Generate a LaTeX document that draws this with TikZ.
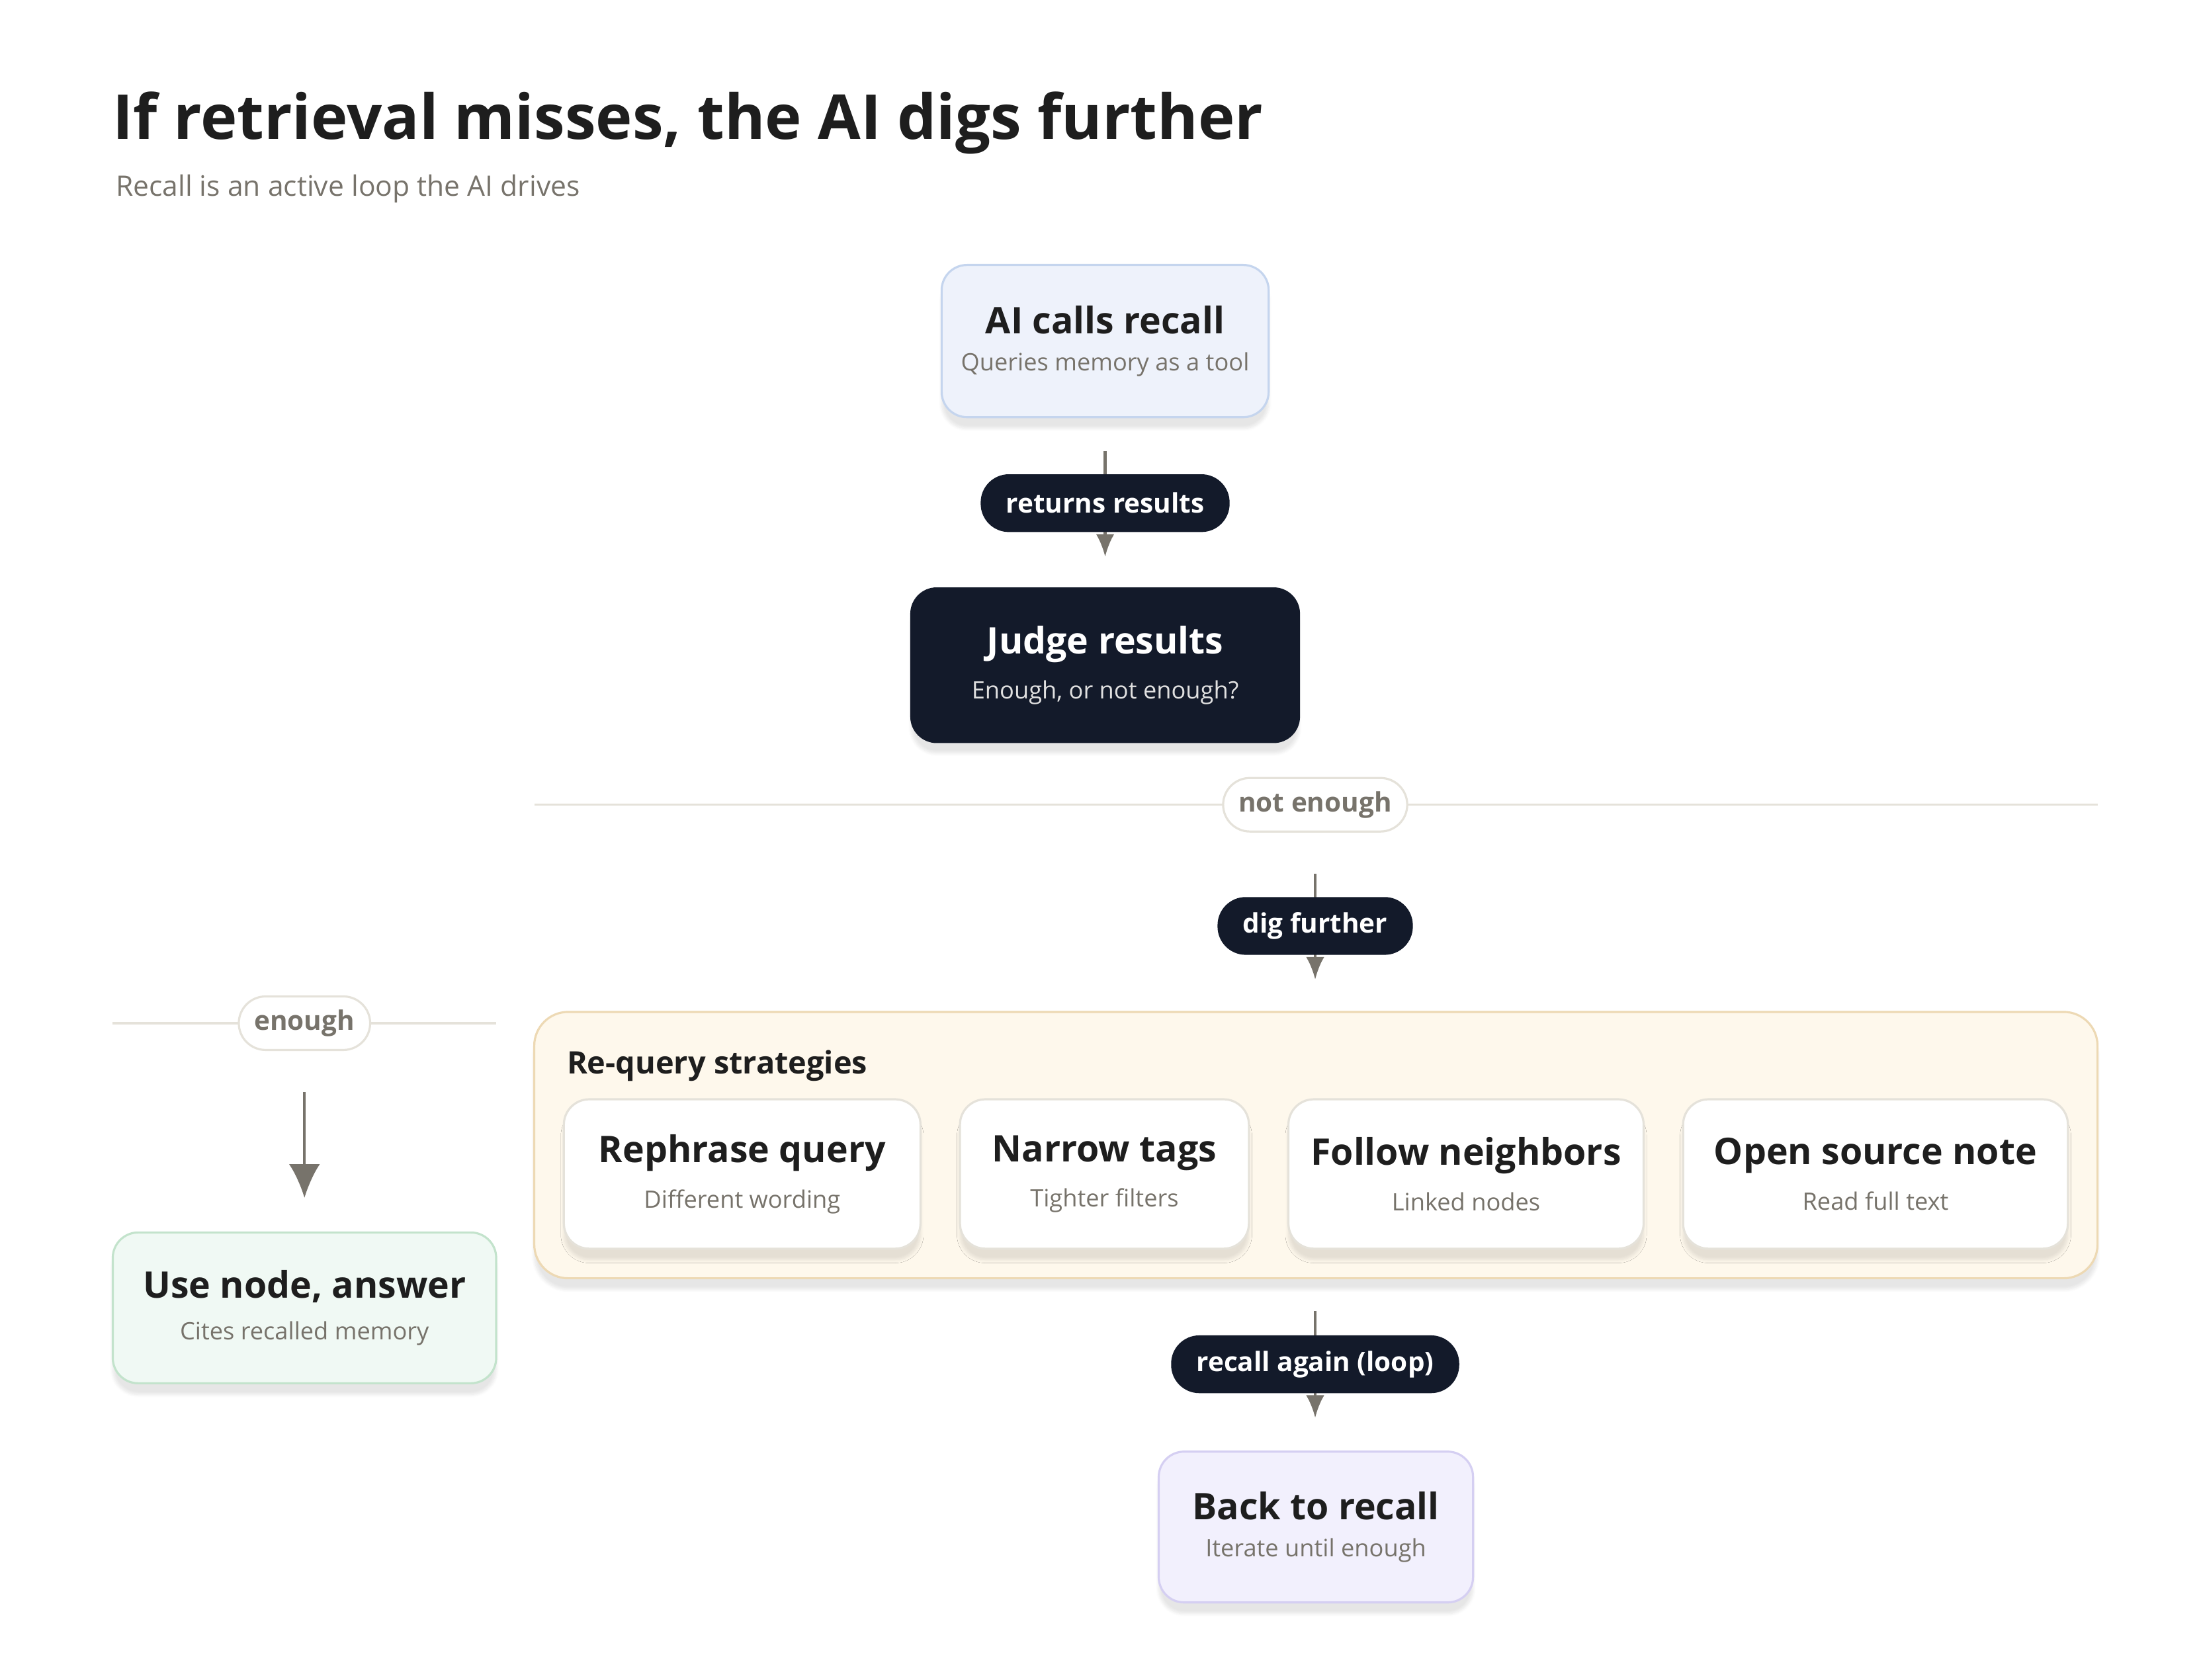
\documentclass[tikz,border=0pt]{standalone}
\usepackage{fontspec}
\setmainfont{Open Sans}
\usetikzlibrary{arrows.meta,shadows.blur}
\definecolor{ink}{HTML}{1E1E1E}
\definecolor{navy}{HTML}{131A2A}
\definecolor{mute}{HTML}{77736B}
\definecolor{rule}{HTML}{E5E2DA}
\definecolor{bluefill}{HTML}{EEF2FB}
\definecolor{blueline}{HTML}{C5D5EE}
\definecolor{greenfill}{HTML}{F0F9F4}
\definecolor{greenline}{HTML}{C3E3CC}
\definecolor{sandfill}{HTML}{FEF8EC}
\definecolor{sandline}{HTML}{EDD9B4}
\definecolor{lilacfill}{HTML}{F2F0FD}
\definecolor{lilacline}{HTML}{D5CFF2}
\newcommand{\fs}[1]{\fontsize{#1}{#1}\selectfont}
\newcommand{\boxtext}[2]{{\fs{26}\bfseries #1}\\[12pt]{\fs{17}\color{mute}#2}}
\tikzset{
  card/.style={draw=rule,fill=white,line width=1.5pt,rounded corners=18pt,
    align=center,text=ink,
    blur shadow={shadow blur steps=8,shadow opacity=10,shadow xshift=0pt,shadow yshift=-8pt}},
  pill/.style={fill=navy,text=white,rounded corners=20pt,font=\fs{19}\bfseries,
    minimum height=41pt,inner xsep=18pt},
  tag/.style={draw=rule,fill=white,line width=1.5pt,text=mute,rounded corners=19pt,
    font=\fs{19}\bfseries,minimum height=38pt,inner xsep=11pt},
  flow/.style={draw=mute,line width=2pt,-{Latex[length=16pt,width=13pt]}},
  divider/.style={draw=rule,line width=1.5pt}
}
\begin{document}
\begin{tikzpicture}[x=1pt,y=-1pt]
\useasboundingbox (0,0) rectangle (1560,1192);
% heading
\node[anchor=base west,text=ink,font=\fs{44}\bfseries,inner sep=0] (title) at (80,99) {If retrieval misses, the AI digs further};
\node[anchor=base west,text=mute,font=\fs{20},inner sep=0] (subtitle) at (82,139) {Recall is an active loop the AI drives};
% top of the loop
\node[card,fill=bluefill,draw=blueline,minimum width=232pt,minimum height=108pt] (recall) at (784,242) {\boxtext{AI calls recall}{Queries memory as a tool}};
\coordinate (r1) at (784,320);
\coordinate (r2) at (784,395);
\draw[flow] (r1) -- (r2);
\node[pill] (returns) at (784,357) {returns results};
\node[card,fill=navy,draw=navy,text=white,minimum width=275pt,minimum height=109pt] (judge) at (784,472)
  {{\fs{26}\bfseries Judge results}\\[12pt]{\fs{17}\color{white!88!black}Enough, or not enough?}};
% branch: not enough
\coordinate (n1) at (379,571);
\coordinate (n2) at (1488,571);
\draw[divider] (n1) -- (n2);
\node[tag] (notenough) at (933,571) {not enough};
\coordinate (d1) at (933,620);
\coordinate (d2) at (933,695);
\draw[flow] (d1) -- (d2);
\node[pill] (dig) at (933,657) {dig further};
% branch: enough
\coordinate (e1) at (80,726);
\coordinate (e2) at (352,726);
\draw[divider] (e1) -- (e2);
\node[tag] (enough) at (216,726) {enough};
\coordinate (u1) at (216,775);
\coordinate (u2) at (216,850);
\draw[draw=mute,line width=2pt,-{Latex[length=24pt,width=22pt]}] (u1) -- (u2);
\node[card,fill=greenfill,draw=greenline,minimum width=272pt,minimum height=107pt] (answer) at (216,928) {\boxtext{Use node, answer}{Cites recalled memory}};
% strategies
\node[card,fill=sandfill,draw=sandline,rounded corners=24pt,minimum width=1109pt,minimum height=189pt] (group) at (933.5,812.5) {};
\node[anchor=base west,text=ink,font=\fs{22}\bfseries,inner sep=0] (grouplabel) at (402,762) {Re-query strategies};
\node[card,minimum width=253pt,minimum height=106pt] (rephrase) at (526.5,833) {\boxtext{Rephrase query}{Different wording}};
\node[card,minimum width=205pt,minimum height=106pt] (narrow) at (783.5,833) {\boxtext{Narrow tags}{Tighter filters}};
\node[card,minimum width=252pt,minimum height=106pt] (follow) at (1040,833) {\boxtext{Follow neighbors}{Linked nodes}};
\node[card,minimum width=273pt,minimum height=106pt] (open) at (1330.5,833) {\boxtext{Open source note}{Read full text}};
% loop back
\coordinate (l1) at (933,930);
\coordinate (l2) at (933,1006);
\draw[flow] (l1) -- (l2);
\node[pill] (again) at (933,968) {recall again (loop)};
\node[card,fill=lilacfill,draw=lilacline,minimum width=223pt,minimum height=107pt] (back) at (933.5,1083.5) {\boxtext{Back to recall}{Iterate until enough}};
\end{tikzpicture}
\end{document}
